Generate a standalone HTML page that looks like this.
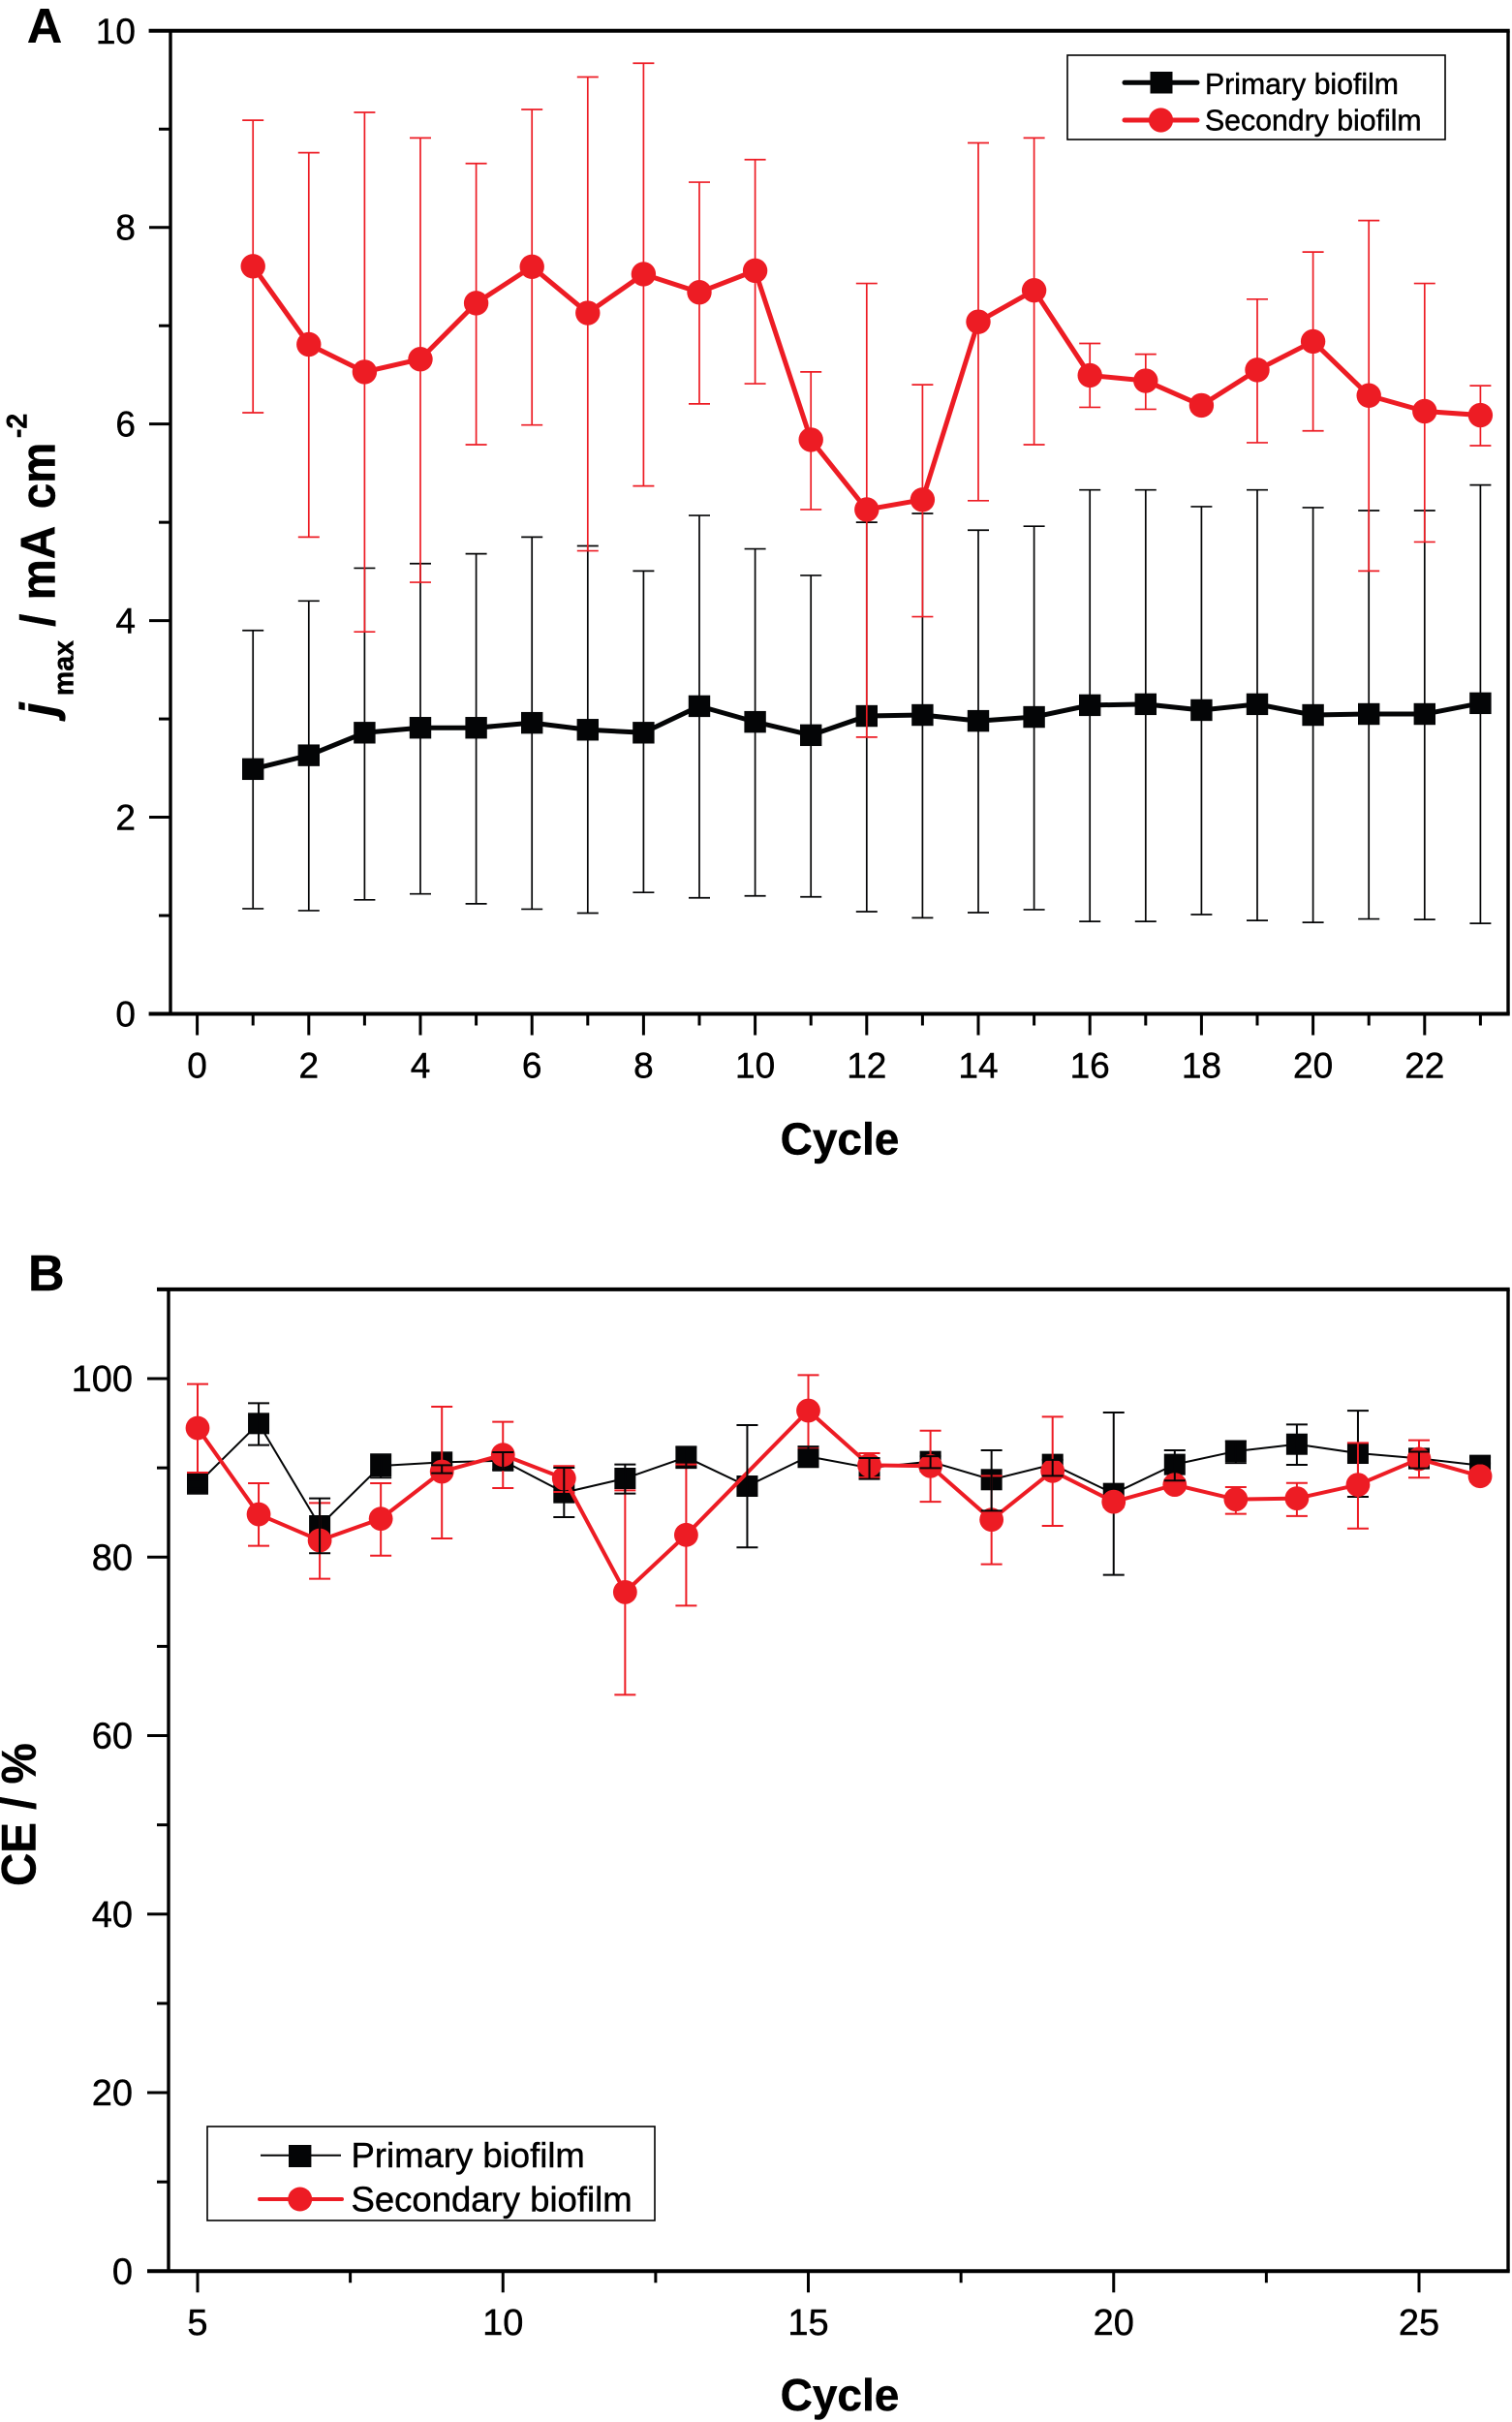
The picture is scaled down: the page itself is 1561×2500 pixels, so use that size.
<!DOCTYPE html>
<html lang="en">
<head>
<meta charset="utf-8">
<title>Biofilm jmax and CE by cycle</title>
<style>
html,body{margin:0;padding:0;background:#fff;width:1561px;height:2500px;overflow:hidden}
svg{display:block}
text{font-family:"Liberation Sans",Arial,sans-serif;fill:#000;stroke:#000;stroke-width:.45px}
</style>
</head>
<body>
<svg id="fig" xmlns="http://www.w3.org/2000/svg" width="1561" height="2500" viewBox="0 0 1561 2500">
  <rect x="0" y="0" width="1561" height="2500" fill="#fff"/>
  <text x="28" y="44" font-size="50" font-weight="bold">A</text>
  <text x="29" y="1332" font-size="52" font-weight="bold">B</text>

  <g id="panelA"></g>
  <g id="panelB"></g>

  <g transform="translate(56.7,739) rotate(-90) scale(0.95,1)">
    <text x="0" y="0" font-size="50" font-weight="bold" font-style="italic" style="stroke-width:1.2px">j</text>
    <text x="22" y="19" font-size="30" font-weight="bold">max</text>
    <text x="97" y="0" font-size="50" font-weight="bold">/</text>
    <text x="126" y="0" font-size="50" font-weight="bold">mA</text>
    <text x="225" y="0" font-size="50" font-weight="bold">cm</text>
    <text x="302" y="-29" font-size="30" font-weight="bold">-2</text>
  </g>
  <text x="867" y="1191.5" font-size="46" font-weight="bold" text-anchor="middle">Cycle</text>

  <g transform="translate(36.7,1947) rotate(-90) scale(0.95,1)">
    <text x="0" y="0" font-size="50" font-weight="bold">CE / %</text>
  </g>
  <text x="867" y="2488" font-size="46" font-weight="bold" text-anchor="middle">Cycle</text>

  <g>
    <rect x="1102" y="57" width="390" height="87" fill="#fff" stroke="#000" stroke-width="1.6"/>
    <line x1="1161" y1="85.3" x2="1236" y2="85.3" stroke="#040506" stroke-width="5" stroke-linecap="round"/>
    <rect x="1187.5" y="74" width="23" height="22.5" fill="#040506"/>
    <text x="1244" y="96.8" font-size="30.25">Primary biofilm</text>
    <line x1="1161" y1="124" x2="1236" y2="124" stroke="#ed1c24" stroke-width="5" stroke-linecap="round"/>
    <circle cx="1198.5" cy="124" r="12.6" fill="#ed1c24"/>
    <text x="1244" y="134.7" font-size="30.25">Secondry biofilm</text>
  </g>

  <g>
    <rect x="214" y="2195" width="462" height="97" fill="#fff" stroke="#000" stroke-width="1.6"/>
    <line x1="269" y1="2224.7" x2="352" y2="2224.7" stroke="#040506" stroke-width="2"/>
    <rect x="298" y="2214" width="23.4" height="23" fill="#040506"/>
    <text x="362.5" y="2237" font-size="36.5">Primary biofilm</text>
    <line x1="268" y1="2270" x2="353" y2="2270" stroke="#ed1c24" stroke-width="4" stroke-linecap="round"/>
    <circle cx="309.7" cy="2270" r="12.5" fill="#ed1c24"/>
    <text x="362.5" y="2282.7" font-size="36.5">Secondary biofilm</text>
  </g>
</svg>

<script>
// ---------- Panel A data ----------
const cyclesA = [1,2,3,4,5,6,7,8,9,10,11,12,13,14,15,16,17,18,19,20,21,22,23];
const primaryMeanA = [2.49,2.63,2.86,2.91,2.91,2.96,2.89,2.86,3.13,2.97,2.835,3.03,3.04,2.98,3.02,3.14,3.15,3.09,3.15,3.04,3.05,3.05,3.16];
const primaryUpperA = [3.90,4.20,4.534,4.58,4.68,4.85,4.76,4.505,5.07,4.73,4.46,5.00,5.09,4.92,4.96,5.33,5.33,5.16,5.33,5.15,5.12,5.12,5.38];
const primaryLowerA = [1.07,1.05,1.16,1.22,1.12,1.065,1.025,1.235,1.18,1.20,1.19,1.04,0.977,1.03,1.06,0.94,0.94,1.01,0.95,0.93,0.965,0.96,0.92];
const secondaryMeanA = [7.605,6.81,6.53,6.66,7.23,7.60,7.13,7.525,7.34,7.56,5.84,5.13,5.23,7.04,7.36,6.495,6.44,6.19,6.55,6.84,6.29,6.13,6.09];
const secondaryUpperA = [9.09,8.76,9.17,8.91,8.65,9.20,9.53,9.67,8.46,8.69,6.53,7.43,6.40,8.86,8.91,6.82,6.71,6.25,7.27,7.75,8.07,7.43,6.39];
const secondaryLowerA = [6.115,4.85,3.886,4.39,5.79,5.99,4.71,5.37,6.205,6.41,5.13,2.815,4.04,5.22,5.79,6.17,6.15,6.13,5.81,5.93,4.505,4.80,5.78];
const xMajorTicksA = [0,2,4,6,8,10,12,14,16,18,20,22];
const xMinorTicksA = [1,3,5,7,9,11,13,15,17,19,21,23];
const yMajorTicksA = [0,2,4,6,8,10];
const yMinorTicksA = [1,3,5,7,9];

// ---------- Panel B data ----------
const cyclesB = [5,6,7,8,9,10,11,12,13,14,15,16,17,18,19,20,21,22,23,24,25,26];
const primaryMeanB = [88.2,94.97,83.5,90.23,90.63,90.8,87.23,88.82,91.2,87.95,91.28,90.0,90.7,88.68,90.38,87.12,90.38,91.86,92.65,91.64,91.06,90.27];
const primaryUpperB = [88.7,97.25,86.58,91.5,90.3,91.75,90.01,90.38,92.36,94.79,92.37,91.1,91.3,91.97,90.9,96.2,91.97,93.0,94.86,96.4,91.8,91.2];
const primaryLowerB = [87.7,92.55,80.43,88.9,89.4,89.8,84.48,87.12,90.0,81.08,90.1,88.75,89.97,85.2,89.1,78.0,88.57,90.55,90.34,86.76,89.94,90.5];
const secondaryMeanB = [94.46,84.8,81.87,84.3,89.58,91.46,88.82,76.08,82.49,null,96.42,90.3,90.2,84.19,89.65,86.2,88.1,86.47,86.58,88.1,91.0,89.07];
const secondaryUpperB = [99.39,88.28,86.07,88.28,96.85,95.15,90.2,87.48,90.38,null,100.4,91.64,94.17,89.1,95.73,86.8,88.7,87.84,88.3,92.8,93.1,89.67];
const secondaryLowerB = [89.47,81.26,77.57,80.17,82.09,87.73,87.3,64.58,74.56,null,92.26,88.93,86.2,79.2,83.5,85.6,87.5,84.84,84.6,83.2,88.9,88.47];
const xMajorTicksB = [5,10,15,20,25];
const xMinorTicksB = [7.5,12.5,17.5,22.5];
const yMajorTicksB = [0,20,40,60,80,100];
const yMinorTicksB = [10,30,50,70,90,110];

// ---------- Axis functions ----------
const xA = c => 203.6 + 57.6 * c;
const yA = v => 1046.5 - 101.47 * v;
const xB = c => 204 + 63.05 * (c - 5);
const yB = v => 2344.3 - 9.213 * v;

const NS = 'http://www.w3.org/2000/svg';
const BLACK = '#040506';
const RED = '#ed1c24';

function mk(tag, attrs, parent) {
  const el = document.createElementNS(NS, tag);
  for (const k in attrs) el.setAttribute(k, attrs[k]);
  parent.appendChild(el);
  return el;
}

function drawFrame(parent, prefix, cfg) {
  const left = cfg.left, right = cfg.right, top = cfg.top, bottom = cfg.bottom;
  let el;
  el = mk('line', {x1: cfg.topStart, y1: top, x2: right + 1.7, y2: top, stroke: '#000', 'stroke-width': 4}, parent);
  
  
  el = mk('line', {x1: cfg.bottomStart, y1: bottom, x2: right + 1.7, y2: bottom, stroke: '#000', 'stroke-width': 4}, parent);
  
  
  el = mk('line', {x1: left, y1: top, x2: left, y2: bottom, stroke: '#000', 'stroke-width': 3.4}, parent);
  
  
  el = mk('line', {x1: right, y1: top, x2: right, y2: bottom, stroke: '#000', 'stroke-width': 3.4}, parent);
  
  
}

function drawXTicks(parent, prefix, majors, minors, xf, bottom, labelY, fontSize) {
  majors.forEach(t => {
    const tick = mk('line', {x1: xf(t), y1: bottom, x2: xf(t), y2: bottom + 22, stroke: '#000', 'stroke-width': 3}, parent);
    
    
    const label = mk('text', {x: xf(t), y: labelY, 'font-size': fontSize, 'text-anchor': 'middle'}, parent);
    label.textContent = String(t);
    
    
  });
  minors.forEach(t => {
    const tick = mk('line', {x1: xf(t), y1: bottom, x2: xf(t), y2: bottom + 12, stroke: '#000', 'stroke-width': 3}, parent);
    
    
  });
}

function drawYTicks(parent, prefix, majors, minors, yf, left, labelX, fontSize) {
  majors.forEach(t => {
    const tick = mk('line', {x1: left - 22, y1: yf(t), x2: left, y2: yf(t), stroke: '#000', 'stroke-width': 3}, parent);
    
    
    const label = mk('text', {x: labelX, y: yf(t) + 13, 'font-size': fontSize, 'text-anchor': 'end'}, parent);
    label.textContent = String(t);
    
    
  });
  minors.forEach(t => {
    const tick = mk('line', {x1: left - 12, y1: yf(t), x2: left, y2: yf(t), stroke: '#000', 'stroke-width': 3}, parent);
    
    
  });
}

function drawErrors(parent, name, cats, upper, lower, xf, yf, color, width, keep) {
  cats.forEach((c, i) => {
    if (upper[i] === null || lower[i] === null) return;
    if (keep && !keep(c)) return;
    const g = mk('g', {stroke: color, 'stroke-width': width, fill: 'none'}, parent);
    
    
    const x = xf(c), yu = yf(upper[i]), yl = yf(lower[i]);
    mk('line', {x1: x, y1: yu, x2: x, y2: yl}, g);
    mk('line', {x1: x - 11, y1: yu, x2: x + 11, y2: yu}, g);
    mk('line', {x1: x - 11, y1: yl, x2: x + 11, y2: yl}, g);
  });
}

function drawLine(parent, name, cats, vals, xf, yf, color, width) {
  const pts = [];
  cats.forEach((c, i) => { if (vals[i] !== null) pts.push(xf(c).toFixed(2) + ',' + yf(vals[i]).toFixed(2)); });
  const el = mk('polyline', {points: pts.join(' '), fill: 'none', stroke: color, 'stroke-width': width, 'stroke-linejoin': 'round'}, parent);
  
  
}

function drawSquares(parent, name, cats, vals, xf, yf, color, size) {
  cats.forEach((c, i) => {
    if (vals[i] === null) return;
    const el = mk('rect', {x: xf(c) - size / 2, y: yf(vals[i]) - size / 2, width: size, height: size, fill: color}, parent);
    
    
  });
}

function drawCircles(parent, name, cats, vals, xf, yf, color, r) {
  cats.forEach((c, i) => {
    if (vals[i] === null) return;
    const el = mk('circle', {cx: xf(c), cy: yf(vals[i]), r: r, fill: color}, parent);
    
    
  });
}

// ---------- Panel A ----------
const pa = document.getElementById('panelA');
drawFrame(pa, 'panel-a', {left: 176, right: 1557, top: 31.8, bottom: 1046.5, topStart: 153.6, bottomStart: 153.6});
drawXTicks(pa, 'panel-a', xMajorTicksA, xMinorTicksA, xA, 1046.5, 1112.6, 37);
drawYTicks(pa, 'panel-a', yMajorTicksA, yMinorTicksA, yA, 176, 140, 37);
drawErrors(pa, 'primary-a', cyclesA, primaryUpperA, primaryLowerA, xA, yA, BLACK, 1.7);
drawLine(pa, 'primary-a', cyclesA, primaryMeanA, xA, yA, BLACK, 5);
drawSquares(pa, 'primary-a', cyclesA, primaryMeanA, xA, yA, BLACK, 22.4);
drawErrors(pa, 'secondary-a', cyclesA, secondaryUpperA, secondaryLowerA, xA, yA, RED, 1.7);
drawLine(pa, 'secondary-a', cyclesA, secondaryMeanA, xA, yA, RED, 5);
drawCircles(pa, 'secondary-a', cyclesA, secondaryMeanA, xA, yA, RED, 12.7);

// ---------- Panel B ----------
const pb = document.getElementById('panelB');
const underRed = c => c === 20 || c === 24;
const overRed = c => !underRed(c);
drawFrame(pb, 'panel-b', {left: 174, right: 1557, top: yB(110), bottom: 2344.3, topStart: 162, bottomStart: 152});
drawXTicks(pb, 'panel-b', xMajorTicksB, xMinorTicksB, xB, 2344.3, 2410, 38);
drawYTicks(pb, 'panel-b', yMajorTicksB, yMinorTicksB, yB, 174, 137, 38);
drawLine(pb, 'primary-b', cyclesB, primaryMeanB, xB, yB, BLACK, 2);
drawSquares(pb, 'primary-b', cyclesB, primaryMeanB, xB, yB, BLACK, 22);
drawErrors(pb, 'primary-b', cyclesB, primaryUpperB, primaryLowerB, xB, yB, BLACK, 2, underRed);
drawErrors(pb, 'secondary-b', cyclesB, secondaryUpperB, secondaryLowerB, xB, yB, RED, 2);
drawLine(pb, 'secondary-b', cyclesB, secondaryMeanB, xB, yB, RED, 4);
drawCircles(pb, 'secondary-b', cyclesB, secondaryMeanB, xB, yB, RED, 12.4);
drawErrors(pb, 'primary-b', cyclesB, primaryUpperB, primaryLowerB, xB, yB, BLACK, 2, overRed);
</script>
</body>
</html>
